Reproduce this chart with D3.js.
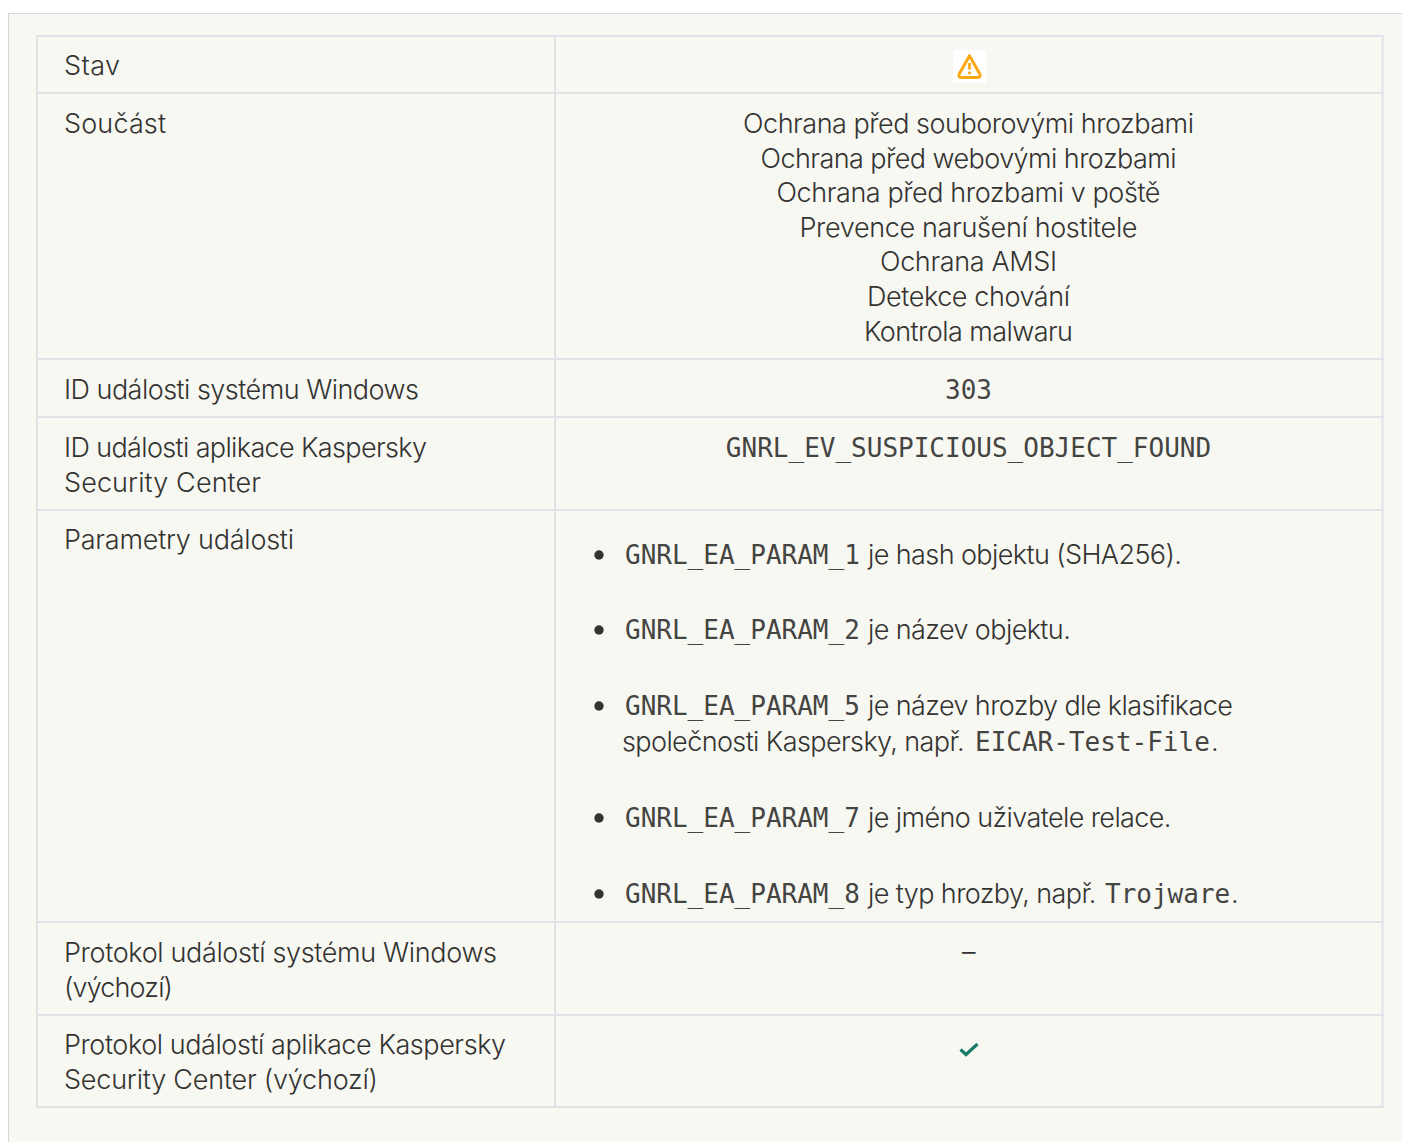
<!DOCTYPE html>
<html><head><meta charset="utf-8">
<script src="https://d3js.org/d3.v7.min.js"></script>
<style>
html,body{margin:0;padding:0;background:#fff;overflow:hidden}
svg{display:block}
.s{font-family:"Inter",sans-serif;font-weight:300;font-size:27px;fill:#333331}
.t{font-family:"Inter",sans-serif;font-weight:300;font-size:27px;fill:#333331;letter-spacing:-0.6px}
.m{font-family:"DejaVu Sans Mono",monospace;font-weight:400;font-size:26px;fill:#444442}
</style></head><body>
<svg id="c" width="1402" height="1142"></svg>
<script>
const rowLabels=[["Stav"],["Součást"],["ID události systému Windows"],["ID události aplikace Kaspersky","Security Center"],["Parametry události"],["Protokol událostí systému Windows","(výchozí)"],["Protokol událostí aplikace Kaspersky","Security Center (výchozí)"]];
const rowLabelWidths=[[56],[102],[355],[363,197],[230],[433,109],[442,314]];
const componentLines=["Ochrana před souborovými hrozbami","Ochrana před webovými hrozbami","Ochrana před hrozbami v poště","Prevence narušení hostitele","Ochrana AMSI","Detekce chování","Kontrola malwaru"];
const componentWidths=[451,416,384,338,177,203,209];
const monoValues=["303","GNRL_EV_SUSPICIOUS_OBJECT_FOUND"];
const bulletParams=["GNRL_EA_PARAM_1","GNRL_EA_PARAM_2","GNRL_EA_PARAM_5","GNRL_EA_PARAM_7","GNRL_EA_PARAM_8"];
const bulletTexts=["je hash objektu (SHA256).","je název objektu.","je název hrozby dle klasifikace","je jméno uživatele relace.","je typ hrozby, např."];
const bulletCode=[null,null,null,null,"Trojware"];
const rowEdges=[36,93,359,417,510,922,1015,1107];
const labelBaselines=[75,133,399,457,549,962,1054];
const bulletBaselines=[564,639,715,827,903];

const svg=d3.select("#c");
svg.append("rect").attr("x",8.5).attr("y",13.5).attr("width",1500).attr("height",1300).attr("fill","#f8f8f3").attr("stroke","#d8d8d6");
const line=(x1,y1,x2,y2)=>svg.append("line").attr("x1",x1).attr("y1",y1).attr("x2",x2).attr("y2",y2).attr("stroke","#dfe3e7").attr("stroke-width",2);
rowEdges.forEach(y=>line(36,y,1384,y));
[37,555,1382.5].forEach(x=>line(x,36,x,1108));
const text=(x,y,t,cls,anchor,len)=>{
  const n=svg.append("text").attr("x",x).attr("y",y).attr("class",cls).attr("text-anchor",anchor||"start").text(t);
  if(len) n.attr("textLength",len).attr("lengthAdjust","spacing");
  return n;
};
rowLabels.forEach((ls,i)=>ls.forEach((l,j)=>text(64,labelBaselines[i]+j*34.7,l,"s","start",rowLabelWidths[i][j])));
const cx=968.5;
componentLines.forEach((l,i)=>text(cx,133+i*34.6,l,"s","middle",componentWidths[i]));
text(cx,399,monoValues[0],"m","middle");
text(cx,457,monoValues[1],"m","middle");
svg.selectAll("circle.b").data(bulletBaselines).join("circle").attr("class","b").attr("cx",599).attr("cy",d=>d-9).attr("r",4.7).attr("fill","#333331");
bulletParams.forEach((p,i)=>{
  const y=bulletBaselines[i];
  text(625,y,p,"m");
  text(868,y,bulletTexts[i],"t");
});
text(622,751,"společnosti Kaspersky, např.","t");
text(975,751,"EICAR-Test-File","m");
text(1211,751,".","t");
text(1105,903,bulletCode[4],"m");
text(1231,903,".","t");
text(cx,961,"–","t","middle");
// warning icon
const ic=svg.append("g").attr("transform","translate(953,50)");
ic.append("rect").attr("width",33).attr("height",33).attr("fill","#fff");
ic.append("path").attr("d","M16.5 5.8 L26.8 24 Q28 27.5 24.8 27.5 L8.2 27.5 Q5 27.5 6.2 24 Z").attr("fill","none").attr("stroke","#fca815").attr("stroke-width",3).attr("stroke-linejoin","round");
ic.append("line").attr("x1",16.5).attr("x2",16.5).attr("y1",13).attr("y2",19.5).attr("stroke","#fca815").attr("stroke-width",2.8);
ic.append("circle").attr("cx",16.5).attr("cy",22.8).attr("r",1.6).attr("fill","#fca815");
// check icon
svg.append("path").attr("d","M960.5 1049.5 L966 1054.5 L977.5 1044").attr("fill","none").attr("stroke","#1a7a68").attr("stroke-width",3.2);
</script></body></html>
